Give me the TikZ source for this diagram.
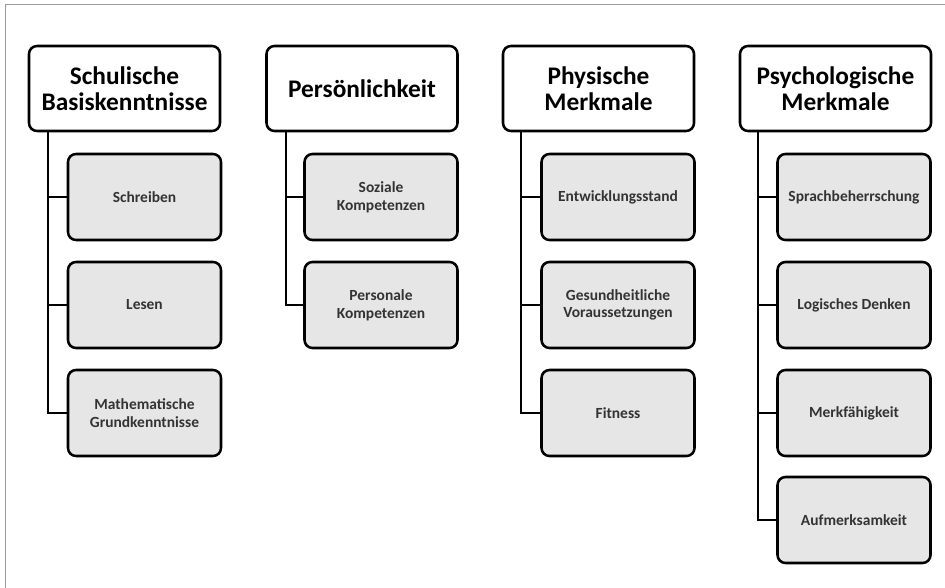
\documentclass[tikz,border=0pt]{standalone}
\usepackage{fontspec}
\setmainfont{Carlito}
\usetikzlibrary{calc}
\definecolor{framegray}{HTML}{9A9A9A}
\definecolor{boxfill}{HTML}{E6E6E6}
\definecolor{childtext}{HTML}{333333}
\tikzset{
  head/.style={draw=black, line width=1.9pt, rounded corners=6pt, fill=white,
    minimum width=143.25pt, minimum height=63.75pt, align=center,
    font=\fontsize{19}{19.5}\selectfont\bfseries, inner sep=2pt},
  item/.style={draw=black, line width=1.9pt, rounded corners=6pt, fill=boxfill,
    minimum width=114.75pt, minimum height=64.5pt, align=center,
    font=\fontsize{11.6}{13.2}\selectfont\bfseries, text=childtext, inner sep=2pt},
  link/.style={draw=black, line width=1.5pt}
}
\begin{document}
\begin{tikzpicture}[x=0.75pt, y=-0.75pt]
  \useasboundingbox (0,0) rectangle (945,588);
  % page frame (top and left edges)
  \draw[framegray, line width=1.2pt] (5.5,588) -- (5.5,4.5) -- (945,4.5);

  % column headers
  \node[head] (h1) at (124.5,88.5) {Schulische\\Basiskenntnisse};
  \node[head] (h2) at (362,88.5) {Persönlichkeit};
  \node[head] (h3) at (598.5,88.5) {Physische\\Merkmale};
  \node[head] (h4) at (835.5,88.5) {Psychologische\\Merkmale};

  % column 1
  \node[item] (a1) at (144.5,197) {Schreiben};
  \node[item] (a2) at (144.5,305) {Lesen};
  \node[item] (a3) at (144.5,413) {Mathematische\\Grundkenntnisse};
  % column 2
  \node[item] (b1) at (381,197) {Soziale\\Kompetenzen};
  \node[item] (b2) at (381,305) {Personale\\Kompetenzen};
  % column 3
  \node[item] (c1) at (618,197) {Entwicklungsstand};
  \node[item] (c2) at (618,305) {Gesundheitliche\\Voraussetzungen};
  \node[item] (c3) at (618,413) {Fitness};
  % column 4
  \node[item] (d1) at (854,197) {Sprachbeherrschung};
  \node[item] (d2) at (854,305) {Logisches Denken};
  \node[item] (d3) at (854,413) {Merkfähigkeit};
  \node[item] (d4) at (854,520) {Aufmerksamkeit};

  % connectors: vertical spine below each header, branch to each item
  \foreach \h/\dx/\list in {h1/20.5/{a1,a2,a3}, h2/21/{b1,b2}, h3/19/{c1,c2,c3}, h4/19/{d1,d2,d3,d4}}{
    \foreach \c in \list {
      \draw[link] ($(\h.south west)+(\dx,0)$) |- (\c.west);
    }
  }
\end{tikzpicture}
\end{document}
